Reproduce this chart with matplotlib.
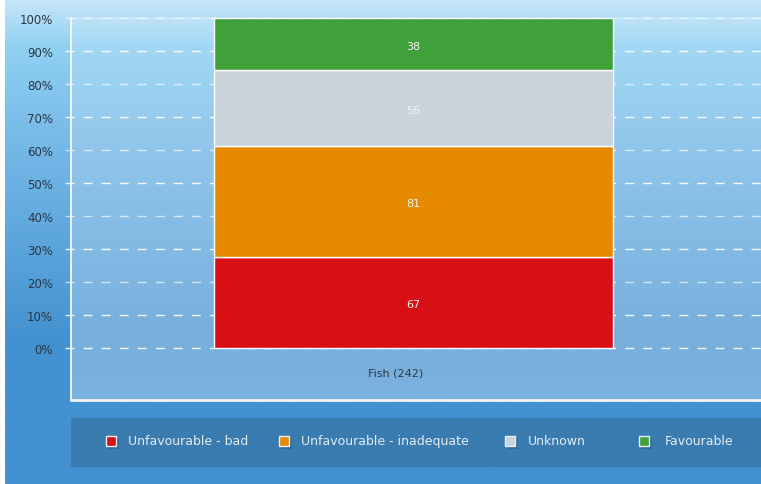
import numpy as np
import matplotlib.pyplot as plt
from matplotlib.colors import LinearSegmentedColormap
from matplotlib.patches import Rectangle
import matplotlib.transforms as mtransforms

# data
category = "Fish (242)"
series = ["Unfavourable - bad", "Unfavourable - inadequate", "Unknown", "Favourable"]
counts = [67, 81, 56, 38]
colors = ["#d81016", "#e68a00", "#c8d3da", "#40a03a"]
yticks = [0, 10, 20, 30, 40, 50, 60, 70, 80, 90, 100]

W, H = 761, 485
fig = plt.figure(figsize=(W / 100, H / 100), dpi=100)
fig.patch.set_facecolor("white")

def fx(px):
    return px / W

def fy(py):
    return 1 - py / H

# page background gradient
bg = fig.add_axes([fx(5), 0, fx(W - 5), 1], zorder=0)
bg_cmap = LinearSegmentedColormap.from_list(
    "bg", [(0, "#c6e6f9"), (0.1, "#8fd0f2"), (0.3, "#76b8e7"),
           (0.52, "#5aa4dc"), (0.7, "#4391d0"), (1, "#4391d0")])
grad = np.linspace(0, 1, 256).reshape(-1, 1)
bg.imshow(grad, aspect="auto", cmap=bg_cmap, extent=[0, 1, 1, 0])
bg.set_xlim(0, 1)
bg.set_ylim(1, 0)
bg.axis("off")

# legend band
fig.patches.append(Rectangle((fx(71), fy(468)), fx(761 - 71), fy(419) - fy(468),
                             transform=fig.transFigure, facecolor="#3a7bb0",
                             edgecolor="none", zorder=1))

# plot area
ax = fig.add_axes([fx(71), fy(401), fx(761 - 71), fy(19) - fy(401)], zorder=2)
ax.set_facecolor((1, 1, 1, 0))
ylo = -15.76
ax.set_ylim(ylo, 100)
ax.set_xlim(-0.858, 0.871)

ov = np.zeros((256, 1, 4))
ov[..., :3] = 1.0
ov[:, 0, 3] = np.linspace(0.16, 0.3, 256)
ax.imshow(ov, aspect="auto", extent=[-0.858, 0.871, ylo, 100], zorder=0)

down2 = mtransforms.ScaledTranslation(0, -2 / 100, fig.dpi_scale_trans)
total = sum(counts)
pct = [c / total * 100 for c in counts]
bottom = 0
for name, c, p, col in zip(series, counts, pct, colors):
    ax.bar(0, p, width=1.0, bottom=bottom, color=col, edgecolor="white",
           linewidth=1, zorder=3)
    ax.text(0, bottom + p / 2, str(c), ha="center", va="center",
            fontsize=8, color="#f4f4f4", zorder=4,
            transform=ax.transData + down2)
    bottom += p

for y in yticks:
    ax.plot([-0.872, 0.871], [y, y], color="white", lw=1,
            linestyle=(0, (6.5, 6.5)), alpha=0.9 if y % 20 == 10 or y == 0 else 0.65,
            clip_on=False, zorder=2)

ax.set_yticks(yticks)
ax.set_yticklabels([f"{y}%" for y in yticks], fontsize=8.5, color="#2b3640")
ax.tick_params(axis="y", length=0, pad=13)
ax.set_xticks([0])
ax.set_xticklabels([category], fontsize=8, color="#2b3640")
ax.tick_params(axis="x", length=0, pad=-23.7)
for lab in ax.get_xticklabels():
    lab.set_transform(lab.get_transform() +
                      mtransforms.ScaledTranslation(-18 / 100, 0, fig.dpi_scale_trans))

ax.spines["right"].set_visible(False)
ax.spines["left"].set_color("white")
ax.spines["left"].set_linewidth(1.2)
ax.spines["bottom"].set_color("#eef4fa")
ax.spines["bottom"].set_linewidth(2)
ax.spines["top"].set_color((1, 1, 1, 0.3))
ax.spines["top"].set_linewidth(1.2)

# legend
marker_x = [111, 284, 510, 644]
text_x = [128, 301, 528, 665]
for name, col, mx, tx in zip(series, colors, marker_x, text_x):
    fig.patches.append(Rectangle((fx(mx - 3), fy(448 + 2)), fx(11), fy(437) - fy(448),
                                 transform=fig.transFigure, facecolor="#1f4f78",
                                 edgecolor="none", alpha=0.35, zorder=3))
    fig.patches.append(Rectangle((fx(mx - 5), fy(447)), fx(10), fy(437) - fy(447),
                                 transform=fig.transFigure, facecolor=col,
                                 edgecolor="#e8eef3", linewidth=1, zorder=4))
    fig.text(fx(tx), fy(442), name, fontsize=9, color="#e2ecf5",
             ha="left", va="center", zorder=5)

fig.savefig("out.png", dpi=100)
